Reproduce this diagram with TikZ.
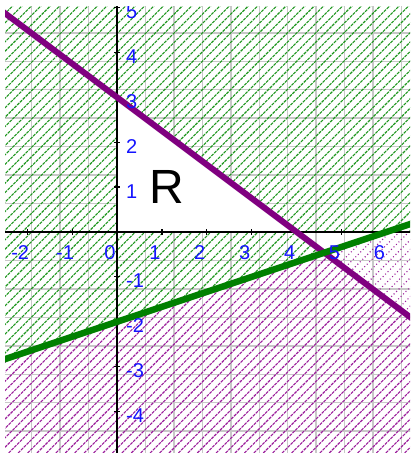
\documentclass[tikz,border=0pt]{standalone}
\usepackage{fontspec}
\setmainfont{Liberation Sans}
\definecolor{lnpurple}{RGB}{128,0,128}
\definecolor{lngreen}{RGB}{0,128,0}
\definecolor{htgreen}{RGB}{30,150,30}
\definecolor{htpurple}{RGB}{155,30,155}
\definecolor{gridgray}{RGB}{200,200,200}
\definecolor{lblblue}{RGB}{20,20,255}
\tikzset{
  gridline/.style={draw=gridgray,line width=1.4pt},
  greenhatch/.style={draw=htgreen,line width=1.1pt,dash pattern=on 3pt off 1pt},
  purplehatch/.style={draw=htpurple,line width=1.1pt,dash pattern=on 3pt off 1pt},
  sparsehatch/.style={draw=htpurple,line width=1.1pt,dash pattern=on 1pt off 2.5pt},
  axisline/.style={draw=black,line width=1.2pt},
  purpleline/.style={draw=lnpurple,line width=6pt},
  greenline/.style={draw=lngreen,line width=6.5pt},
  xlbl/.style={text=lblblue,inner sep=0pt,font=\fontsize{20}{24}\selectfont},
  ylbl/.style={text=lblblue,inner sep=0pt,anchor=west,font=\fontsize{20}{24}\selectfont},
  rlbl/.style={text=black,inner sep=0pt,font=\fontsize{48}{56}\selectfont}
}
\begin{document}
\begin{tikzpicture}[x=44.9pt,y=44.9pt]
\useasboundingbox (-2.606,-4.922) rectangle (6.570,5.167);
\fill[white] (-2.606,-4.922) rectangle (6.570,5.167);
\coordinate (P1) at (-2.7,5.025);
\coordinate (P2) at (6.7,-2.025);
\coordinate (G1) at (-2.7,-2.9);
\coordinate (G2) at (6.7,0.23333);
\coordinate (X) at ({60/13},{-6/13});
\coordinate (O) at (0,0);
\coordinate (A) at (0,3);
\coordinate (B) at (4,0);
\begin{scope}
\clip (-2.494,-4.922) rectangle (6.526,5.033);
\draw[gridline] (-3,-5) grid (7,6);
% green hatch
\begin{scope}
\clip (-2.7,5.3) -- (6.7,5.3) -- (6.7,0) -- (B) -- (X) -- (G1) -- cycle;
\foreach \c in {-8.2,-7.99,...,12.2} \draw[greenhatch] ({\c-5.3},-5.3) -- ({\c+5.4},5.4);
\end{scope}
% feasible region R left white
\fill[white] (O) -- (A) -- (B) -- cycle;
% purple hatch dense
\begin{scope}
\clip (G1) -- (X) -- (P2) -- (6.7,-5.3) -- (-2.7,-5.3) -- cycle;
\foreach \c in {-8.2,-7.99,...,12.2} \draw[purplehatch] ({\c-5.3},-5.3) -- ({\c+5.4},5.4);
\end{scope}
% purple hatch sparse
\begin{scope}
\clip (X) -- (G2) -- (P2) -- cycle;
\foreach \c in {-8.2,-7.99,...,12.2} \draw[sparsehatch] ({\c-5.3},-5.3) -- ({\c+5.4},5.4);
\end{scope}
% axes
\draw[axisline] (-2.7,0) -- (6.7,0);
\draw[axisline] (0,-5.3) -- (0,5.3);
\foreach \i in {-2,...,6} \draw[axisline] (\i,-0.06) -- (\i,0.06);
\foreach \i in {-5,...,5} \draw[axisline] (-0.06,\i) -- (0.06,\i);
% boundary lines
\draw[purpleline] (P1) -- (P2);
\draw[greenline] (G1) -- (G2);
% labels
\foreach \i in {-2,...,6} \node[xlbl] (xl\i) at ({\i-0.156},-0.468) {\i};
\foreach \i in {-5,...,-1,1,2,3,4,5} \node[ylbl] (yl\i) at (0.2,{\i-0.09}) {\i};
\node[rlbl] (R) at (1.114,1.002) {R};
\end{scope}
\end{tikzpicture}
\end{document}
